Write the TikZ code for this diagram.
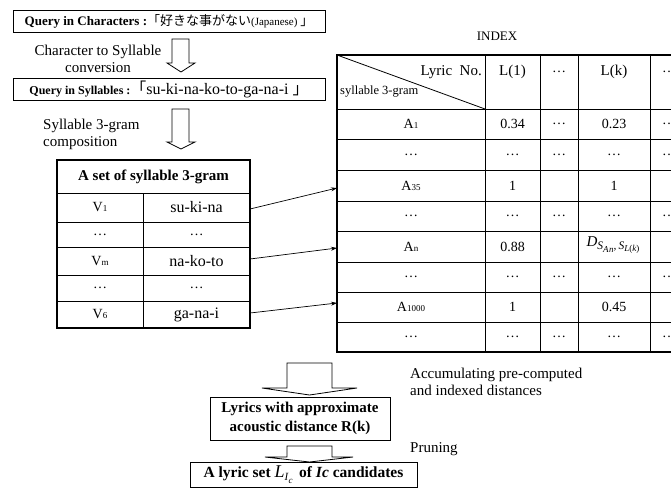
\documentclass[tikz,border=0pt]{standalone}
\usepackage{fontspec}
\setmainfont{Liberation Serif}
\newfontfamily\jp{Noto Sans CJK JP}
\usetikzlibrary{arrows.meta}
\newcommand{\fsz}[1]{\fontsize{#1}{#1}\selectfont}
\newcommand{\sm}[1]{{\fontsize{9}{9}\selectfont #1}}
\tikzset{
  box/.style={draw, line width=0.8pt, inner sep=0pt},
  hollow/.style={draw, line width=0.8pt, fill=white, line join=miter},
  thin/.style={line width=0.8pt},
  thick2/.style={line width=2pt},
  cell/.style={inner sep=0pt, font=\fsz{14}},
  lab/.style={inner sep=0pt, font=\fontsize{15}{17}\selectfont},
  link/.style={line width=0.7pt, -{Stealth[length=6pt,width=4pt]}}
}
\begin{document}
\begin{tikzpicture}[x=1pt,y=-1pt]
\useasboundingbox (0,0) rectangle (671,488);
\clip (0,0) rectangle (671,488);

% ---- top boxes ----
\node[box, minimum width=312, minimum height=22] (q1) at (169,21)
  {\textbf{\fsz{13}Query in Characters :}{\jp\fsz{13}「好きな事がない}{\fsz{11}(Japanese) }{\jp\fsz{13}」}};
\node[lab, align=center] (l1) at (98,58.5) {Character to Syllable\\conversion};
\draw[hollow] (172,39) -- (189,39) -- (189,63) -- (195,63) -- (181,72) -- (167,63) -- (172,63) -- cycle;

\node[box, minimum width=312, minimum height=22] (q2) at (169,89)
  {\textbf{\fsz{12}Query in Syllables :}{\jp\fsz{16}「}{\fsz{16}su-ki-na-ko-to-ga-na-i }{\jp\fsz{16}」}};
\node[lab, align=left, anchor=west] (l2) at (43,134.5) {Syllable 3-gram\\composition};
\draw[hollow] (172,109) -- (189,109) -- (189,142) -- (195,142) -- (181,149) -- (167,142) -- (172,142) -- cycle;

% ---- left table ----
\draw[thin] (57,193) -- (250,193);
\foreach \y in {222,247,275,301} \draw[thin] (57,\y) -- (250,\y);
\draw[thin] (143,193) -- (143,328);
\draw[thick2] (57,160) rectangle (250,328);
\node[cell, font=\bfseries\fsz{15}] (sethead) at (153.5,176.5) {A set of syllable 3-gram};
\node[cell] (v1) at (100,207.5) {V\sm{1}};
\node[cell, font=\fsz{16}] (s1) at (196.5,207.5) {su-ki-na};
\node[cell] (d1) at (100,234.5) {\ldots};
\node[cell] (d2) at (196.5,234.5) {\ldots};
\node[cell] (vm) at (100,261) {V\sm{m}};
\node[cell, font=\fsz{16}] (sm) at (196.5,261) {na-ko-to};
\node[cell] (d3) at (100,288) {\ldots};
\node[cell] (d4) at (196.5,288) {\ldots};
\node[cell] (v6) at (100,314.5) {V\sm{6}};
\node[cell, font=\fsz{16}] (s6) at (196.5,314.5) {ga-na-i};
\coordinate (o1) at (250,209);
\coordinate (o2) at (250,259);
\coordinate (o3) at (250,313);

% ---- index table ----
\node[inner sep=0pt, font=\fsz{13}] (idx) at (497,36) {INDEX};
\foreach \y in {109,139,170,201,231,262,292,322} \draw[thin] (337,\y) -- (700,\y);
\foreach \x in {485,540,578,650,688} \draw[thin] (\x,55) -- (\x,352);
\draw[thin] (337,55) -- (485,109);
\draw[thick2] (700,55) -- (337,55) -- (337,352) -- (700,352);
\node[inner sep=0pt, font=\fsz{15}, anchor=east] (lno) at (482,72) {Lyric~~No.};
\node[inner sep=0pt, font=\fsz{12.5}, anchor=west] (sg) at (340,92) {syllable 3-gram};
\node[cell, font=\fsz{15}] (h2) at (512.5,72) {L(1)};
\node[cell] (h3) at (559,72) {\ldots};
\node[cell, font=\fsz{15}] (h4) at (614,72) {L(k)};
\node[cell] (h5) at (669,72) {\ldots};

\node[cell] (a1) at (411,124) {A\sm{1}};
\node[cell] (a1b) at (512.5,124) {0.34};
\node[cell] (a1c) at (559,124) {\ldots};
\node[cell] (a1d) at (614,124) {0.23};
\node[cell] (a1e) at (669,124) {\ldots};

\foreach \yy/\nm in {154.5/r2,216/r4,277/r6,337/r8}{
  \node[cell] (\nm a) at (411,\yy) {\ldots};
  \node[cell] (\nm b) at (512.5,\yy) {\ldots};
  \node[cell] (\nm c) at (559,\yy) {\ldots};
  \node[cell] (\nm d) at (614,\yy) {\ldots};
  \node[cell] (\nm e) at (669,\yy) {\ldots};
}

\node[cell] (a35) at (411,185.5) {A\sm{35}};
\node[cell] (a35b) at (512.5,185.5) {1};
\node[cell] (a35d) at (614,185.5) {1};

\node[cell] (an) at (411,246.5) {A\sm{n}};
\node[cell] (anb) at (512.5,246.5) {0.88};
\node[cell, font=\fsz{15}] (and) at (613,245)
  {\textit{D}\raisebox{-3.5pt}{\fsz{11.5}\textit{S}\raisebox{-3pt}{\fsz{9}\textit{A\kern0.5pt n}}\textit{,\,S}\raisebox{-2pt}{\fsz{9}\textit{L}(\textit{k})}}};

\node[cell] (ak) at (411,307) {A\sm{1000}};
\node[cell] (akb) at (512.5,307) {1};
\node[cell] (akd) at (614,307) {0.45};

\coordinate (t1) at (337,188);
\coordinate (t2) at (337,248);
\coordinate (t3) at (337,303);
\draw[link] (o1) -- (t1);
\draw[link] (o2) -- (t2);
\draw[link] (o3) -- (t3);

% ---- bottom ----
\node[lab, align=left, anchor=west] (acc) at (410,381.5) {Accumulating pre-computed\\and indexed distances};
\draw[hollow] (287,363) -- (332,363) -- (332,388) -- (357,388) -- (309.5,395) -- (262,388) -- (287,388) -- cycle;
\node[box, minimum width=180, minimum height=43, align=center, font=\bfseries\fontsize{15}{19}\selectfont] (r) at (300,418.5)
  {Lyrics with approximate\\acoustic distance R(k)};
\node[lab, anchor=west] (pr) at (410,449) {Pruning};
\draw[hollow] (287,446) -- (332,446) -- (332,457) -- (353,457) -- (309.5,462) -- (265,457) -- (287,457) -- cycle;
\node[box, minimum width=227, minimum height=25, font=\bfseries\fsz{15.5}] (c) at (303.5,474.5)
  {A lyric set {\mdseries\fsz{18}\textit{L}\raisebox{-3pt}{\fsz{11}\textit{I}\raisebox{-3pt}{\fsz{9}\textit{c}}}}\, of \textit{Ic} candidates};
\end{tikzpicture}
\end{document}
